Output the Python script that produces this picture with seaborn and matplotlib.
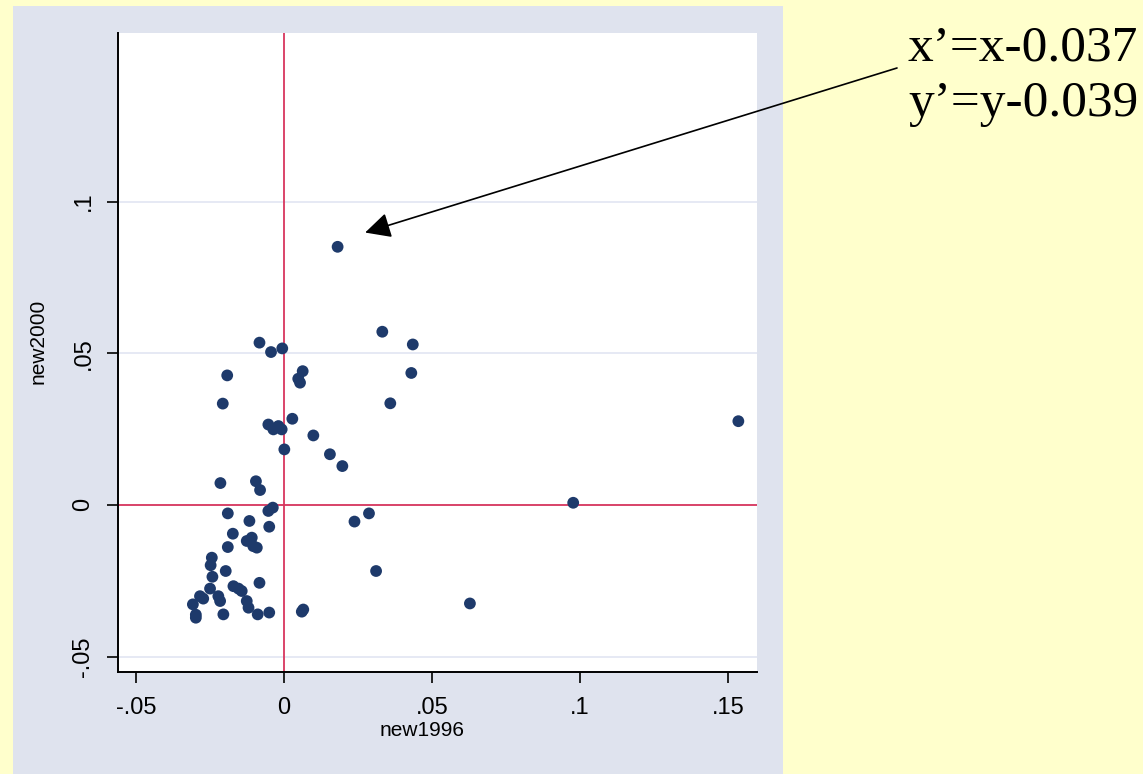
import pandas as pd
import matplotlib
matplotlib.use("Agg")
import matplotlib.pyplot as plt
from matplotlib.patches import Rectangle
import seaborn as sns

# values
new1996 = [-0.0083, -0.0044, -0.0006, 0.0063, 0.0048, 0.0054, -0.0192, -0.0207,
           0.0028, -0.0053, -0.0036, -0.0019, -0.0008, 0.0001, 0.0099, 0.0155,
           0.0197, 0.0181, 0.0332, 0.0435, 0.0430, 0.0359, 0.1535, 0.0977,
           -0.0215, -0.0095, -0.0081, -0.0053, -0.0038, -0.0190, -0.0117, -0.0050,
           -0.0173, -0.0126, -0.0109, -0.0104, -0.0092, -0.0190, 0.0238, 0.0287,
           0.0311, 0.0628, -0.0244, -0.0248, -0.0242, -0.0197, -0.0083, -0.0250,
           -0.0171, -0.0154, -0.0143, -0.0284, -0.0273, -0.0222, -0.0216, -0.0126,
           -0.0120, -0.0308, -0.0298, -0.0298, -0.0205, -0.0089, -0.0050, 0.0065,
           0.0060]
new2000 = [0.0535, 0.0504, 0.0516, 0.0441, 0.0416, 0.0403, 0.0427, 0.0334,
           0.0284, 0.0265, 0.0249, 0.0260, 0.0249, 0.0183, 0.0229, 0.0167,
           0.0128, 0.0851, 0.0571, 0.0529, 0.0435, 0.0335, 0.0276, 0.0007,
           0.0072, 0.0078, 0.0049, -0.0020, -0.0009, -0.0028, -0.0053, -0.0072,
           -0.0095, -0.0119, -0.0108, -0.0136, -0.0141, -0.0139, -0.0055, -0.0028,
           -0.0218, -0.0325, -0.0174, -0.0199, -0.0237, -0.0218, -0.0257, -0.0276,
           -0.0268, -0.0276, -0.0284, -0.0301, -0.0309, -0.0301, -0.0317, -0.0317,
           -0.0339, -0.0328, -0.0362, -0.0372, -0.0361, -0.0361, -0.0355, -0.0345,
           -0.0352]

x_ticks = [-0.05, 0, 0.05, 0.1, 0.15]
x_tick_labels = ["-.05", "0", ".05", ".1", ".15"]
y_ticks = [-0.05, 0, 0.05, 0.1]
y_tick_labels = ["-.05", "0", ".05", ".1"]
note_lines = ["x\u2019=x-0.037", "y\u2019=y-0.039"]

df = pd.DataFrame({"new1996": new1996, "new2000": new2000})

W, H = 1143, 774
fig = plt.figure(figsize=(W / 100, H / 100), dpi=100, facecolor="#FFFFCC")
fig.patches.append(Rectangle((13 / W, 0), 770 / W, 768 / H, transform=fig.transFigure,
                             facecolor="#DFE3EE", edgecolor="none", zorder=-10))

ax = fig.add_axes([118 / W, 102 / H, 639 / W, 639 / H])
ax.set_facecolor("white")

ax.axhline(0, color="#D8365E", lw=1.3, zorder=2)
ax.axvline(0, color="#D8365E", lw=1.3, zorder=2)
sns.scatterplot(data=df, x="new1996", y="new2000", ax=ax, color="#1E3A6B",
                s=72, edgecolor="none", zorder=3)

ax.set_xlim(-0.0561, 0.1598)
ax.set_ylim(-0.0551, 0.1556)
ax.set_xticks(x_ticks)
ax.set_xticklabels(x_tick_labels, fontsize=17, fontfamily="Liberation Sans")
ax.set_yticks(y_ticks)
ax.set_yticklabels(y_tick_labels, rotation=90, va="center", fontsize=17,
                   fontfamily="Liberation Sans")
ax.tick_params(axis="x", length=8, width=1.2, color="black", pad=10)
ax.tick_params(axis="y", length=8, width=1.2, color="black", pad=9)
ax.yaxis.grid(True, color="#E2E5F2", lw=1.2)
ax.set_axisbelow(True)
for side in ["top", "right"]:
    ax.spines[side].set_visible(False)
for side in ["left", "bottom"]:
    ax.spines[side].set_linewidth(1.4)
    ax.spines[side].set_color("black")

ax.set_xlabel("new1996", fontsize=15, family="Liberation Sans")
ax.set_ylabel("new2000", fontsize=15, family="Liberation Sans")
ax.xaxis.set_label_coords(0.476, -0.077)
ax.yaxis.set_label_coords(-0.11, 0.518)

# arrow pointing at the outlier
ax.annotate("", xy=(0.0274, 0.0898), xycoords="data",
            xytext=(897 / W, 1 - 68 / H), textcoords="figure fraction",
            arrowprops=dict(arrowstyle="-|>,head_length=0.6,head_width=0.3",
                            color="black", lw=1.2,
                            mutation_scale=26, shrinkA=0, shrinkB=0),
            annotation_clip=False)

fig.text(908 / W, 1 - 48 / H, note_lines[0], fontsize=37, family="Liberation Serif",
         va="center", ha="left")
fig.text(908 / W, 1 - 104 / H, note_lines[1], fontsize=37, family="Liberation Serif",
         va="center", ha="left")

fig.savefig("out.png", dpi=100, facecolor=fig.get_facecolor())
